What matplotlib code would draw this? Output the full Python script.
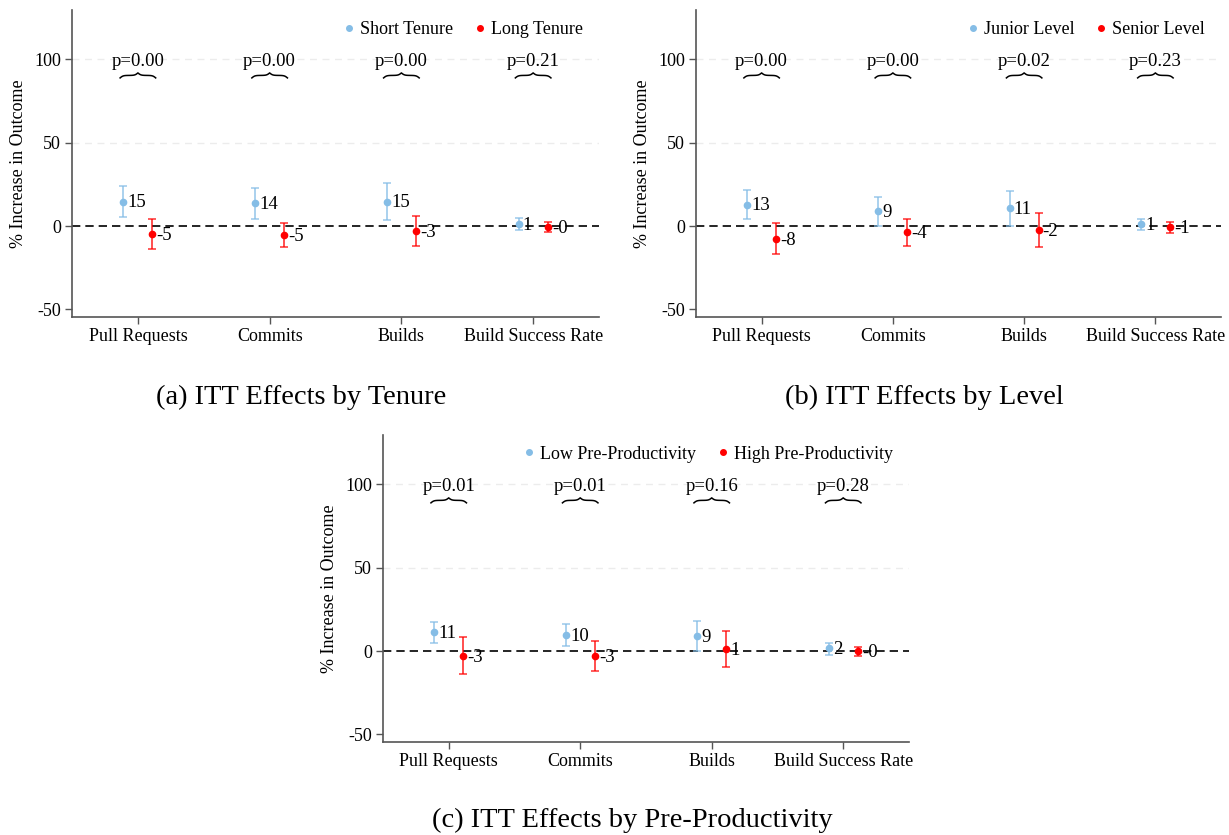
import numpy as np
import matplotlib
matplotlib.use("Agg")
import matplotlib.pyplot as plt
from matplotlib.lines import Line2D

plt.rcParams["font.family"] = ["Liberation Serif", "DejaVu Serif"]

# ---- data ----
outcomes = ["Pull Requests", "Commits", "Builds", "Build Success Rate"]

tenure_groups = ["Short Tenure", "Long Tenure"]
tenure_short = [14.7, 13.7, 14.7, 1.2]
tenure_short_lo = [5.2, 4.4, 3.6, -2.4]
tenure_short_hi = [24.2, 23.0, 26.0, 4.6]
tenure_long = [-4.8, -5.4, -2.8, -0.4]
tenure_long_lo = [-13.5, -12.3, -11.9, -3.4]
tenure_long_hi = [4.0, 1.6, 6.2, 2.2]
tenure_p = ["0.00", "0.00", "0.00", "0.21"]

level_groups = ["Junior Level", "Senior Level"]
level_junior = [12.9, 9.1, 10.7, 1.0]
level_junior_lo = [4.2, 0.0, 0.0, -2.4]
level_junior_hi = [21.6, 17.5, 20.8, 4.0]
level_senior = [-7.7, -3.8, -2.4, -0.8]
level_senior_lo = [-17.0, -11.7, -12.5, -4.0]
level_senior_hi = [1.6, 4.2, 7.9, 2.4]
level_p = ["0.00", "0.00", "0.02", "0.23"]

prod_groups = ["Low Pre-Productivity", "High Pre-Productivity"]
prod_low = [11.2, 9.8, 9.0, 1.6]
prod_low_lo = [5.0, 3.0, 0.0, -2.4]
prod_low_hi = [17.3, 16.5, 17.9, 5.0]
prod_high = [-2.8, -3.0, 1.4, -0.2]
prod_high_lo = [-13.9, -12.0, -9.4, -3.0]
prod_high_hi = [8.4, 6.2, 11.8, 2.4]
prod_p = ["0.01", "0.01", "0.16", "0.28"]

BLUE = "#85bde6"
RED = "#ff0000"
SPINE = "#555555"
FS = 13


def brace(ax, x0, x1, y, h):
    # horizontal curly brace, tip pointing up
    n = 101
    xs = np.linspace(x0, x1, n)
    half = xs[: n // 2 + 1]
    beta = 24.0 / (x1 - x0)
    yh = 1 / (1 + np.exp(-beta * (half - half[0]))) + 1 / (1 + np.exp(-beta * (half - half[-1])))
    ys = np.concatenate((yh, yh[-2::-1]))
    ys = (ys - ys.min()) / (ys.max() - ys.min())
    ax.plot(xs, y + ys * h, color="black", lw=1.1, zorder=4)


def panel(ax, groups, v1, lo1, hi1, v2, lo2, hi2, pvals):
    x = np.arange(1, len(outcomes) + 1)
    off = 0.11
    for val in (50, 100):
        ax.axhline(val, color="#ececec", lw=1.0, ls=(0, (5, 4)), zorder=0)
    ax.axhline(0, color="black", lw=1.2, ls=(0, (5, 3)), zorder=1)

    for xs, v, lo, hi, c in ((x - off, v1, lo1, hi1, BLUE), (x + off, v2, lo2, hi2, RED)):
        v = np.array(v); lo = np.array(lo); hi = np.array(hi)
        ax.errorbar(xs, v, yerr=[v - lo, hi - v], fmt="none", ecolor=c, alpha=0.75,
                    elinewidth=1.3, capsize=3, capthick=1.2, zorder=2)
        ax.plot(xs, v, "o", color=c, ms=4.5, zorder=3)
        for xi, vi in zip(xs, v):
            ax.annotate(f"{vi:.0f}", (xi, vi), xytext=(3, -1), textcoords="offset points",
                        va="center", ha="left", fontsize=FS + 0.5, zorder=5)

    for xi, p in zip(x, pvals):
        ax.text(xi, 96, f"p={p}", ha="center", va="baseline", fontsize=FS + 0.5)
        brace(ax, xi - 0.135, xi + 0.135, 88.8, 3.0)

    ax.set_xlim(0.5, 4.5)
    ax.set_ylim(-54.5, 129.5)
    ax.set_xticks(x)
    ax.set_xticklabels(outcomes, fontsize=FS)
    ax.set_yticks([-50, 0, 50, 100])
    ax.set_yticklabels(["-50", "0", "50", "100"], fontsize=FS)
    ax.set_ylabel("% Increase in Outcome", fontsize=FS, labelpad=5)
    for s in ("top", "right"):
        ax.spines[s].set_visible(False)
    for s in ("left", "bottom"):
        ax.spines[s].set_color(SPINE)
        ax.spines[s].set_linewidth(1.2)
    ax.tick_params(axis="both", direction="out", length=5, width=1.0, color=SPINE, pad=3)

    handles = [Line2D([], [], marker="o", ls="none", color=BLUE, ms=4),
               Line2D([], [], marker="o", ls="none", color=RED, ms=4)]
    ax.legend(handles, groups, loc="upper right", bbox_to_anchor=(0.99, 1.0), ncol=2,
              frameon=False, fontsize=FS, handletextpad=0.1, columnspacing=1.0,
              handlelength=1.0, borderaxespad=0.2)


fig = plt.figure(figsize=(12.29, 8.35), dpi=100)
ax_a = fig.add_axes([0.0586, 0.6204, 0.4288, 0.3676])
ax_b = fig.add_axes([0.5663, 0.6204, 0.4272, 0.3676])
ax_c = fig.add_axes([0.3116, 0.1114, 0.4280, 0.3677])

panel(ax_a, tenure_groups, tenure_short, tenure_short_lo, tenure_short_hi,
      tenure_long, tenure_long_lo, tenure_long_hi, tenure_p)
panel(ax_b, level_groups, level_junior, level_junior_lo, level_junior_hi,
      level_senior, level_senior_lo, level_senior_hi, level_p)
panel(ax_c, prod_groups, prod_low, prod_low_lo, prod_low_hi,
      prod_high, prod_high_lo, prod_high_hi, prod_p)

cap_fs = 20.5
fig.text(301 / 1229, 1 - 397 / 835, "(a) ITT Effects by Tenure", ha="center", va="center", fontsize=cap_fs)
fig.text(924 / 1229, 1 - 397 / 835, "(b) ITT Effects by Level", ha="center", va="center", fontsize=cap_fs)
fig.text(632 / 1229, 1 - 820 / 835, "(c) ITT Effects by Pre-Productivity", ha="center", va="center", fontsize=cap_fs)

fig.savefig("out.png", dpi=100)
